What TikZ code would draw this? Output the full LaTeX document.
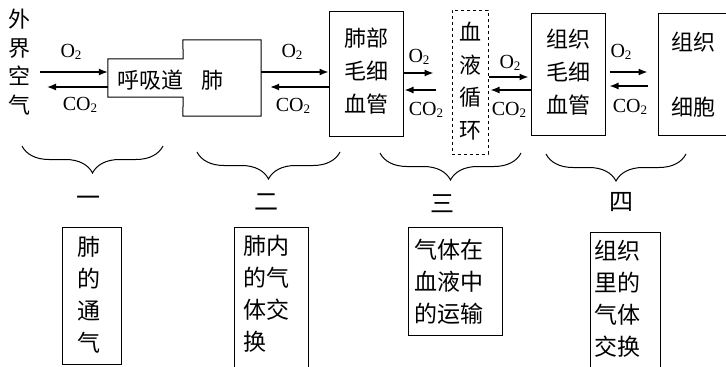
\documentclass[tikz,border=0pt]{standalone}
\usepackage{fontspec}
\setmainfont{Liberation Serif}
\newfontfamily\cjk{Noto Sans CJK SC}
\usetikzlibrary{arrows.meta,decorations.pathreplacing,calc}
\newcommand\gasO{O\raisebox{-0.2ex}{\fontsize{13}{13}\selectfont 2}}
\newcommand\gasC{CO\raisebox{-0.2ex}{\fontsize{13}{13}\selectfont 2}}
\tikzset{
  box/.style={draw, line width=1pt, inner sep=0pt},
  ghost/.style={inner sep=0pt},
  cj/.style={inner sep=0pt, font=\cjk\fontsize{22}{33}\selectfont, align=center},
  cjb/.style={inner sep=0pt, font=\cjk\fontsize{23}{32}\selectfont, align=left, anchor=north west},
  gas/.style={inner sep=0pt, font=\fontsize{20}{20}\selectfont},
  arr/.style={line width=1.3pt, -{Latex[length=9pt,width=7pt]}},
  brc/.style={line width=1pt, decorate, decoration={brace, mirror, amplitude=27pt}},
}
\begin{document}
\begin{tikzpicture}[x=1pt,y=-1pt]
\useasboundingbox (0,0) rectangle (726,367);
\clip (0,0) rectangle (726,367);
% outside air
\node[cj, font=\cjk\fontsize{22}{28.5}\selectfont] (air) at (20,62) {外\\界\\空\\气};
% airway + lung outline
\node[ghost, minimum width=75, minimum height=38] (airway) at (145.5,78) {};
\node[ghost, minimum width=78, minimum height=76] (lung) at (222,78) {};
\draw[line width=1pt] (airway.north west) -- (airway.north east) -- (lung.north west) -- (lung.north east)
  -- (lung.south east) -- (lung.south west) -- (airway.south east) -- (airway.south west) -- cycle;
\node[cj] (airwaytxt) at (150,80) {呼吸道};
\node[cj] (lungtxt) at (212,80) {肺};
% boxes
\node[box, minimum width=74, minimum height=125] (pcap) at (366,73.5) {};
\node[cj] (pcaptxt) at (366,71) {肺部\\毛细\\血管};
\node[box, dashed, minimum width=36, minimum height=144] (blood) at (470,82) {};
\node[cj, font=\cjk\fontsize{22}{32.5}\selectfont] (bloodtxt) at (470,81) {血\\液\\循\\环};
\node[box, minimum width=74, minimum height=122] (tcap) at (568,74) {};
\node[cj] (tcaptxt) at (568,72) {组织\\毛细\\血管};
\node[box, minimum width=120, minimum height=122] (cell) at (718,74) {};
\node[cj] (celltxt1) at (693,42) {组织};
\node[cj] (celltxt2) at (693,107) {细胞};
% arrows
\coordinate (airR) at (40,72);
\draw[arr] (airR) -- (airway.west |- 0,72);
\draw[arr] (airway.west |- 0,87) -- (47,87);
\node[gas] (o1) at (71,52) {\gasO};
\node[gas] (c1) at (80,105) {\gasC};
\draw[arr] (lung.east |- 0,72) -- (pcap.west |- 0,72);
\draw[arr] (pcap.west |- 0,87) -- ([xshift=9pt]lung.east |- 0,87);
\node[gas] (o2) at (292,52) {\gasO};
\node[gas] (c2) at (293,106) {\gasC};
\draw[arr] (pcap.east |- 0,73) -- ([xshift=-18pt]blood.west |- 0,73);
\draw[arr] ([xshift=-16pt]blood.west |- 0,90) -- ([xshift=1pt]pcap.east |- 0,90);
\node[gas] (o3) at (419,57) {\gasO};
\node[gas] (c3) at (426,110) {\gasC};
\draw[arr] (blood.east |- 0,77) -- ([xshift=-2pt]tcap.west |- 0,77);
\draw[arr] (tcap.west |- 0,90) -- ([xshift=2pt]blood.east |- 0,90);
\node[gas] (o4) at (510,63) {\gasO};
\node[gas] (c4) at (509,110) {\gasC};
\draw[arr] ([xshift=4pt]tcap.east |- 0,72) -- ([xshift=-10pt]cell.west |- 0,72);
\draw[arr] ([xshift=-10pt]cell.west |- 0,86) -- ([xshift=4pt]tcap.east |- 0,86);
\node[gas] (o5) at (621,52) {\gasO};
\node[gas] (c5) at (630,107) {\gasC};
% braces
\coordinate (b1a) at (22,146); \coordinate (b1b) at (163,146);
\coordinate (b2a) at (197,152); \coordinate (b2b) at (340,152);
\coordinate (b3a) at (380,153); \coordinate (b3b) at (521,153);
\coordinate (b4a) at (546,154); \coordinate (b4b) at (686,154);
\draw[brc] (b1a) -- (b1b);
\draw[brc] (b2a) -- (b2b);
\draw[brc] (b3a) -- (b3b);
\draw[brc] (b4a) -- (b4b);
\node[cj, font=\cjk\fontsize{24}{24}\selectfont] (n1) at (88,201) {一};
\node[cj, font=\cjk\fontsize{24}{24}\selectfont] (n2) at (266,202) {二};
\node[cj, font=\cjk\fontsize{24}{24}\selectfont] (n3) at (442,204) {三};
\node[cj, font=\cjk\fontsize{24}{24}\selectfont] (n4) at (621,202) {四};
% bottom boxes
\draw[line width=1pt] (62,227) rectangle (121,364);
\node[cj, font=\cjk\fontsize{23}{32}\selectfont] (t1) at (89,295) {肺\\的\\通\\气};
\draw[line width=1pt] (234,227) rectangle (308,380);
\node[cjb] (t2) at (243,235) {肺内\\的气\\体交\\换};
\draw[line width=1pt] (408,227) rectangle (502,335);
\node[cjb] (t3) at (414,239) {气体在\\血液中\\的运输};
\draw[line width=1pt] (590,232) rectangle (660,380);
\node[cjb] (t4) at (594,240) {组织\\里的\\气体\\交换};
\end{tikzpicture}
\end{document}
